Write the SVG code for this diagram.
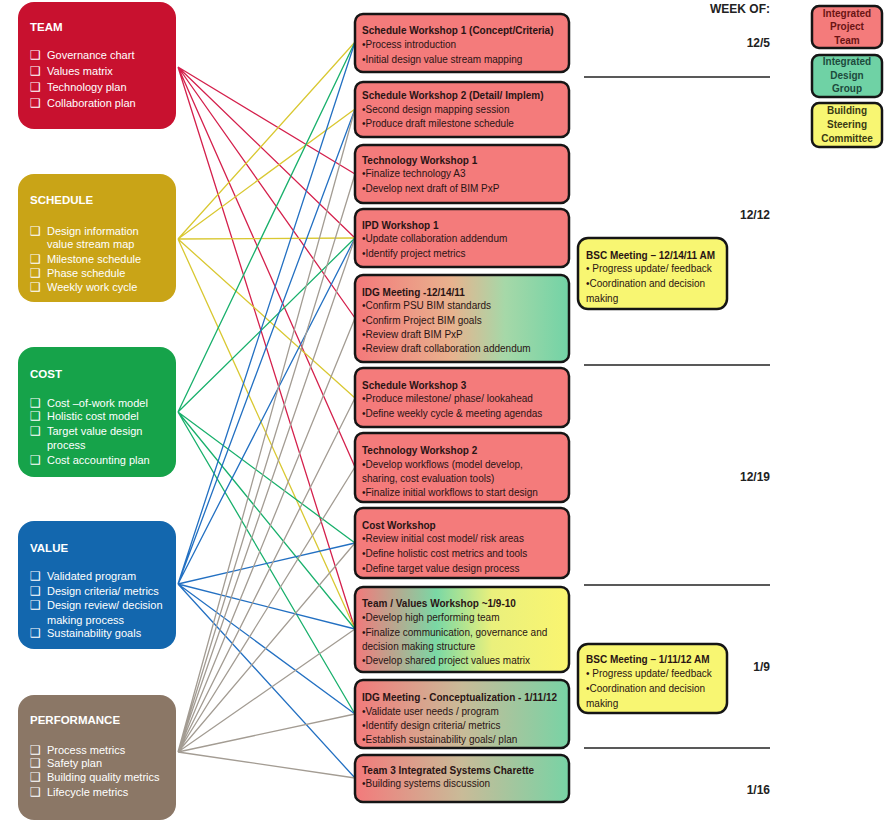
<svg xmlns="http://www.w3.org/2000/svg" width="888" height="821" viewBox="0 0 888 821">
<defs>
<style>
.ln{fill:none;stroke-width:1.3}
.r{stroke:#d4204c}.y{stroke:#d9c832}.g{stroke:#19b06c}.b{stroke:#2370c2}.p{stroke:#a39c93}
.src rect{stroke:none}
.st{font-family:"Liberation Sans",Arial,sans-serif;font-weight:bold;font-size:11.5px;fill:#fff}
.it{font-family:"Liberation Sans",Arial,sans-serif;font-size:11px;fill:#fff}
.cb{font-family:"DejaVu Sans",sans-serif;font-size:12px;fill:#fff}
.box{stroke:#151515;stroke-width:2.5}
.mt{font-family:"Liberation Sans",Arial,sans-serif;font-weight:bold;font-size:10px;fill:#2a1414}
.mb{font-family:"Liberation Sans",Arial,sans-serif;font-size:10px;fill:#2a1414}
.wk{font-family:"Liberation Sans",Arial,sans-serif;font-weight:bold;font-size:12px;fill:#222;text-anchor:end}
.lg{font-family:"Liberation Sans",Arial,sans-serif;font-weight:bold;font-size:10px;text-anchor:middle}
.sep{stroke:#222;stroke-width:1.6}
</style>
<linearGradient id="gIDG" x1="0" y1="0" x2="1" y2="0">
<stop offset="0" stop-color="#f4787a"/><stop offset="0.45" stop-color="#e8b28e"/><stop offset="0.7" stop-color="#a6d8a8"/><stop offset="1" stop-color="#72d3a6"/>
</linearGradient>
<linearGradient id="gTV" x1="0" y1="0" x2="1" y2="0">
<stop offset="0" stop-color="#f3797b"/><stop offset="0.38" stop-color="#7ad8a5"/><stop offset="0.64" stop-color="#eaf07c"/><stop offset="1" stop-color="#faf570"/>
</linearGradient>
<linearGradient id="gRG" x1="0" y1="0" x2="1" y2="0">
<stop offset="0" stop-color="#f37a7b"/><stop offset="0.5" stop-color="#c9bb98"/><stop offset="1" stop-color="#78d3a5"/>
</linearGradient>
</defs>
<rect width="888" height="821" fill="#fff"/>

<g id="connectors">
<path class="ln r" d="M178 67L355 174M178 67L355 238M178 67L355 318M178 67L355 467M178 67L355 629"/>
<path class="ln y" d="M178 239L355 42M178 239L355 109M178 239L355 238M178 239L355 398M178 239L355 629"/>
<path class="ln g" d="M178 412L355 42M178 412L355 238M178 412L355 543M178 412L355 629M178 412L355 714"/>
<path class="ln b" d="M178 584L355 42M178 584L355 109M178 584L355 238M178 584L355 543M178 584L355 629M178 584L355 714M178 584L355 778"/>
<path class="ln p" d="M178 752L355 109M178 752L355 174M178 752L355 238M178 752L355 318M178 752L355 398M178 752L355 467M178 752L355 543M178 752L355 629M178 752L355 714M178 752L355 778"/>
</g>

<g id="team" class="src">
<rect x="18" y="2" width="158" height="127" rx="16" fill="#c8112f"/>
<text class="st" x="30" y="31">TEAM</text>
<text class="cb" x="30" y="59">❑</text><text class="it" x="47" y="59">Governance chart</text>
<text class="cb" x="30" y="75">❑</text><text class="it" x="47" y="75">Values matrix</text>
<text class="cb" x="30" y="91">❑</text><text class="it" x="47" y="91">Technology plan</text>
<text class="cb" x="30" y="107">❑</text><text class="it" x="47" y="107">Collaboration plan</text>
</g>

<g id="schedule" class="src">
<rect x="18" y="174" width="158" height="128" rx="16" fill="#c9a417"/>
<text class="st" x="30" y="204">SCHEDULE</text>
<text class="cb" x="30" y="235">❑</text><text class="it" x="47" y="235">Design information</text>
<text class="it" x="47" y="248">value stream map</text>
<text class="cb" x="30" y="263">❑</text><text class="it" x="47" y="263">Milestone schedule</text>
<text class="cb" x="30" y="277">❑</text><text class="it" x="47" y="277">Phase schedule</text>
<text class="cb" x="30" y="291">❑</text><text class="it" x="47" y="291">Weekly work cycle</text>
</g>

<g id="cost" class="src">
<rect x="18" y="347" width="158" height="130" rx="16" fill="#16a34a"/>
<text class="st" x="30" y="378">COST</text>
<text class="cb" x="30" y="407">❑</text><text class="it" x="47" y="407">Cost –of-work model</text>
<text class="cb" x="30" y="420">❑</text><text class="it" x="47" y="420">Holistic cost model</text>
<text class="cb" x="30" y="435">❑</text><text class="it" x="47" y="435">Target value design</text>
<text class="it" x="47" y="449">process</text>
<text class="cb" x="30" y="464">❑</text><text class="it" x="47" y="464">Cost accounting plan</text>
</g>

<g id="value" class="src">
<rect x="18" y="521" width="158" height="128" rx="16" fill="#1367ae"/>
<text class="st" x="30" y="552">VALUE</text>
<text class="cb" x="30" y="580">❑</text><text class="it" x="47" y="580">Validated program</text>
<text class="cb" x="30" y="595">❑</text><text class="it" x="47" y="595">Design criteria/ metrics</text>
<text class="cb" x="30" y="609">❑</text><text class="it" x="47" y="609">Design review/ decision</text>
<text class="it" x="47" y="624">making process</text>
<text class="cb" x="30" y="637">❑</text><text class="it" x="47" y="637">Sustainability goals</text>
</g>

<g id="performance" class="src">
<rect x="18" y="695" width="158" height="125" rx="16" fill="#8b7766"/>
<text class="st" x="30" y="724">PERFORMANCE</text>
<text class="cb" x="30" y="754">❑</text><text class="it" x="47" y="754">Process metrics</text>
<text class="cb" x="30" y="767">❑</text><text class="it" x="47" y="767">Safety plan</text>
<text class="cb" x="30" y="781">❑</text><text class="it" x="47" y="781">Building quality metrics</text>
<text class="cb" x="30" y="796">❑</text><text class="it" x="47" y="796">Lifecycle metrics</text>
</g>

<g id="sw1">
<rect class="box" x="355" y="14" width="214" height="58" rx="8" fill="#f47b7b"/>
<text class="mt" x="362" y="34">Schedule Workshop 1 (Concept/Criteria)</text>
<text class="mb" x="362" y="48">•Process introduction</text>
<text class="mb" x="362" y="63">•Initial design value stream mapping</text>
</g>
<g id="sw2">
<rect class="box" x="355" y="82" width="214" height="55" rx="8" fill="#f47b7b"/>
<text class="mt" x="362" y="99">Schedule Workshop 2 (Detail/ Implem)</text>
<text class="mb" x="362" y="113">•Second design mapping session</text>
<text class="mb" x="362" y="127">•Produce draft milestone schedule</text>
</g>
<g id="tw1">
<rect class="box" x="355" y="145" width="214" height="58" rx="8" fill="#f47b7b"/>
<text class="mt" x="362" y="164">Technology Workshop 1</text>
<text class="mb" x="362" y="177">•Finalize technology A3</text>
<text class="mb" x="362" y="192">•Develop next draft of BIM PxP</text>
</g>
<g id="ipd1">
<rect class="box" x="355" y="209" width="214" height="58" rx="8" fill="#f47b7b"/>
<text class="mt" x="362" y="229">IPD Workshop 1</text>
<text class="mb" x="362" y="242">•Update collaboration addendum</text>
<text class="mb" x="362" y="257">•Identify project metrics</text>
</g>
<g id="idg1">
<rect class="box" x="355" y="275" width="214" height="87" rx="8" fill="url(#gIDG)"/>
<text class="mt" x="362" y="296">IDG Meeting -12/14/11</text>
<text class="mb" x="362" y="309">•Confirm PSU BIM standards</text>
<text class="mb" x="362" y="324">•Confirm Project BIM goals</text>
<text class="mb" x="362" y="338">•Review draft BIM PxP</text>
<text class="mb" x="362" y="352">•Review draft collaboration addendum</text>
</g>
<g id="sw3">
<rect class="box" x="355" y="368" width="214" height="59" rx="8" fill="#f47b7b"/>
<text class="mt" x="362" y="389">Schedule Workshop 3</text>
<text class="mb" x="362" y="402">•Produce milestone/ phase/ lookahead</text>
<text class="mb" x="362" y="417">•Define weekly cycle &amp; meeting agendas</text>
</g>
<g id="tw2">
<rect class="box" x="355" y="433" width="214" height="69" rx="8" fill="#f47b7b"/>
<text class="mt" x="362" y="454">Technology Workshop 2</text>
<text class="mb" x="362" y="468">•Develop workflows (model develop,</text>
<text class="mb" x="362" y="482"> sharing, cost evaluation tools)</text>
<text class="mb" x="362" y="496">•Finalize initial workflows to start design</text>
</g>
<g id="costws">
<rect class="box" x="355" y="508" width="214" height="70" rx="8" fill="#f47b7b"/>
<text class="mt" x="362" y="529">Cost Workshop</text>
<text class="mb" x="362" y="542">•Review initial cost model/ risk areas</text>
<text class="mb" x="362" y="557">•Define holistic cost metrics and tools</text>
<text class="mb" x="362" y="572">•Define target value design process</text>
</g>
<g id="teamvalues">
<rect class="box" x="355" y="587" width="214" height="85" rx="8" fill="url(#gTV)"/>
<text class="mt" x="362" y="607">Team / Values Workshop ~1/9-10</text>
<text class="mb" x="362" y="621">•Develop high performing team</text>
<text class="mb" x="362" y="636">•Finalize communication, governance and</text>
<text class="mb" x="362" y="650"> decision making structure</text>
<text class="mb" x="362" y="664">•Develop shared project values matrix</text>
</g>
<g id="idg2">
<rect class="box" x="355" y="680" width="214" height="68" rx="8" fill="url(#gRG)"/>
<text class="mt" x="362" y="701">IDG Meeting - Conceptualization - 1/11/12</text>
<text class="mb" x="362" y="715">•Validate user needs / program</text>
<text class="mb" x="362" y="729">•Identify design criteria/ metrics</text>
<text class="mb" x="362" y="743">•Establish sustainability goals/ plan</text>
</g>
<g id="team3">
<rect class="box" x="355" y="755" width="214" height="47" rx="8" fill="url(#gRG)"/>
<text class="mt" x="362" y="774">Team 3 Integrated Systems Charette</text>
<text class="mb" x="362" y="787">•Building systems discussion</text>
</g>

<g id="bsc1">
<rect class="box" x="578" y="238" width="149" height="71" rx="10" fill="#f8f672"/>
<text class="mt" x="586" y="259">BSC Meeting – 12/14/11 AM</text>
<text class="mb" x="586" y="272">• Progress update/ feedback</text>
<text class="mb" x="586" y="287">•Coordination and decision</text>
<text class="mb" x="586" y="302"> making</text>
</g>
<g id="bsc2">
<rect class="box" x="578" y="644" width="149" height="69" rx="10" fill="#f8f672"/>
<text class="mt" x="586" y="663">BSC Meeting – 1/11/12 AM</text>
<text class="mb" x="586" y="677">• Progress update/ feedback</text>
<text class="mb" x="586" y="692">•Coordination and decision</text>
<text class="mb" x="586" y="707"> making</text>
</g>

<g id="weeks">
<text class="wk" x="770" y="13">WEEK OF:</text>
<text class="wk" x="770" y="47">12/5</text>
<text class="wk" x="770" y="219">12/12</text>
<text class="wk" x="770" y="481">12/19</text>
<text class="wk" x="770" y="671">1/9</text>
<text class="wk" x="770" y="794">1/16</text>
<line class="sep" x1="584" y1="77" x2="770" y2="77"/>
<line class="sep" x1="584" y1="365" x2="770" y2="365"/>
<line class="sep" x1="584" y1="585" x2="770" y2="585"/>
<line class="sep" x1="584" y1="748" x2="770" y2="748"/>
</g>

<g id="legend-ipt">
<rect class="box" x="812" y="6" width="70" height="42" rx="7" fill="#f47b7b" stroke-width="2.2"/>
<text class="lg" x="847" y="17" fill="#6a1414">Integrated</text>
<text class="lg" x="847" y="30" fill="#6a1414">Project</text>
<text class="lg" x="847" y="44" fill="#6a1414">Team</text>
</g>
<g id="legend-idg">
<rect class="box" x="812" y="55" width="70" height="42" rx="7" fill="#6fd2a5" stroke-width="2.2"/>
<text class="lg" x="847" y="65" fill="#1d4a3c">Integrated</text>
<text class="lg" x="847" y="79" fill="#1d4a3c">Design</text>
<text class="lg" x="847" y="92" fill="#1d4a3c">Group</text>
</g>
<g id="legend-bsc">
<rect class="box" x="812" y="103" width="70" height="44" rx="7" fill="#f8f672" stroke-width="2.2"/>
<text class="lg" x="847" y="114" fill="#3a3a14">Building</text>
<text class="lg" x="847" y="128" fill="#3a3a14">Steering</text>
<text class="lg" x="847" y="142" fill="#3a3a14">Committee</text>
</g>
</svg>
